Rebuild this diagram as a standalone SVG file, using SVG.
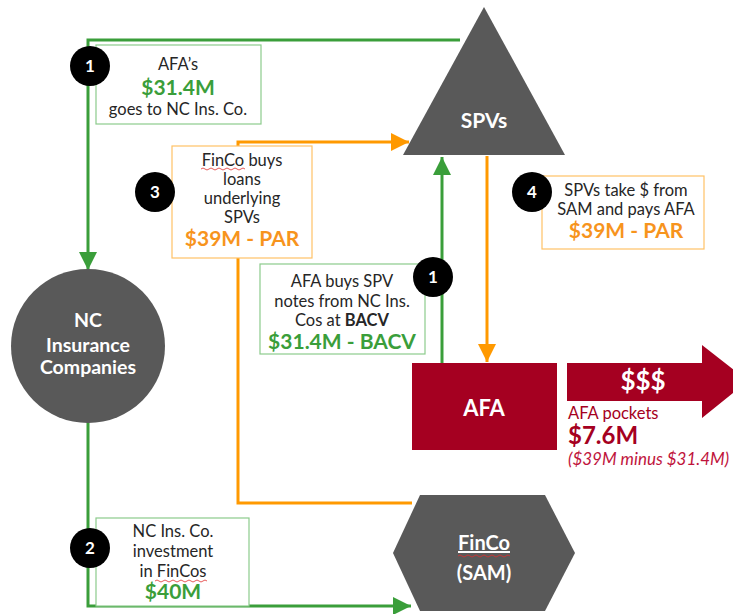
<svg xmlns="http://www.w3.org/2000/svg" width="733" height="614" viewBox="0 0 733 614">
<style>
text{font-family:Lato,"Liberation Sans",sans-serif;}
.t{font-size:16.5px;fill:#262626;text-anchor:middle;}
.g{font-size:21px;font-weight:bold;fill:#3A9E3A;text-anchor:middle;}
.o{font-size:21px;font-weight:bold;fill:#F7941D;text-anchor:middle;}
.w{font-weight:bold;fill:#fff;text-anchor:middle;}
.bn{font-size:17px;font-weight:bold;fill:#fff;text-anchor:middle;}
.gl{fill:none;stroke:#3A9E3A;stroke-width:3;}
.ol{fill:none;stroke:#FF9900;stroke-width:3;}
.gb{fill:#fff;stroke:#8CCB8C;stroke-width:1.2;}
.ob{fill:#fff;stroke:#FFC266;stroke-width:1.2;}
.sh{fill:#595959;}
.sq{fill:none;stroke:#E03030;stroke-width:0.8;}
</style>
<defs>
<marker id="ag" viewBox="0 0 10 10" refX="10" refY="5" markerWidth="6" markerHeight="6" orient="auto" markerUnits="strokeWidth"><path d="M0,0L10,5L0,10z" fill="#3A9E3A"/></marker>
<marker id="ao" viewBox="0 0 10 10" refX="10" refY="5" markerWidth="6" markerHeight="6" orient="auto" markerUnits="strokeWidth"><path d="M0,0L10,5L0,10z" fill="#FF9900"/></marker>
</defs>

<g id="connectors">
<path class="gl" d="M460,40H88V270" marker-end="url(#ag)"/>
<path class="gl" d="M88,422V606H411" marker-end="url(#ag)"/>
<path class="gl" d="M442,363V157" marker-end="url(#ag)"/>
<path class="ol" d="M412,503H238V142H409" marker-end="url(#ao)"/>
<path class="ol" d="M487,156V362" marker-end="url(#ao)"/>
</g>

<g id="spvs">
<polygon class="sh" points="484,7 565,155 403,155"/>
<text class="w" x="484" y="128" font-size="21">SPVs</text>
</g>

<g id="nc">
<circle class="sh" cx="88" cy="346" r="77"/>
<text class="w" x="88" y="327" font-size="19.5">NC</text>
<text class="w" x="88" y="352" font-size="19.5">Insurance</text>
<text class="w" x="88" y="374" font-size="19.5">Companies</text>
</g>

<g id="finco">
<polygon class="sh" points="393,553 420,495 545,495 575,553 545,611 420,611"/>
<text class="w" x="484" y="550" font-size="20" text-decoration="underline">FinCo</text>
<path class="sq" d="M458,556q2,-2 4,0t4,0t4,0t4,0t4,0t4,0t4,0t4,0t4,0t4,0t4,0t4,0t4,0"/>
<text class="w" x="484" y="580" font-size="20">(SAM)</text>
</g>

<g id="afa">
<rect x="412" y="363" width="145" height="87" fill="#A50021"/>
<text class="w" x="484" y="416" font-size="22">AFA</text>
</g>

<g id="pockets">
<polygon points="567,363 702,363 702,345 748,381 702,418 702,401 567,401" fill="#A50021"/>
<text class="w" x="643" y="390" font-size="26">$$$</text>
<text x="568" y="419" font-size="16.5" fill="#A50021">AFA pockets</text>
<text x="568" y="444" font-size="24" font-weight="bold" fill="#A50021">$7.6M</text>
<text x="568" y="465" font-size="17" font-style="italic" fill="#C0143C">($39M minus $31.4M)</text>
</g>

<g id="label1a">
<rect class="gb" x="96" y="45" width="165" height="79"/>
<text class="t" x="178" y="70">AFA’s</text>
<text class="g" x="178" y="95">$31.4M</text>
<text class="t" x="178" y="115">goes to NC Ins. Co.</text>
</g>

<g id="label3">
<rect class="ob" x="172" y="146" width="140" height="112"/>
<text class="t" x="242" y="166">FinCo buys</text>
<path class="sq" d="M201,169q2,-2 4,0t4,0t4,0t4,0t4,0t4,0t4,0t4,0t4,0t4,0t4,0"/>
<text class="t" x="242" y="185">loans</text>
<text class="t" x="242" y="204">underlying</text>
<text class="t" x="242" y="223">SPVs</text>
<text class="o" x="242" y="246">$39M - PAR</text>
</g>

<g id="label4">
<rect class="ob" x="542" y="176" width="162" height="73"/>
<text class="t" x="626" y="196">SPVs take $ from</text>
<text class="t" x="626" y="215">SAM and pays AFA</text>
<text class="o" x="626" y="238">$39M - PAR</text>
</g>

<g id="label1b">
<rect class="gb" x="260" y="264" width="165" height="90"/>
<text class="t" x="342" y="287">AFA buys SPV</text>
<text class="t" x="342" y="307">notes from NC Ins.</text>
<text class="t" x="342" y="326">Cos at <tspan font-weight="bold">BACV</tspan></text>
<text class="g" x="342" y="349">$31.4M - BACV</text>
</g>

<g id="label2">
<rect class="gb" x="96" y="518" width="153" height="88"/>
<text class="t" x="173" y="537">NC Ins. Co.</text>
<text class="t" x="173" y="557">investment</text>
<text class="t" x="173" y="577">in FinCos</text>
<path class="sq" d="M155,581q2,-2 4,0t4,0t4,0t4,0t4,0t4,0t4,0t4,0t4,0t4,0t4,0t4,0t4,0"/>
<text class="g" x="173" y="599">$40M</text>
</g>

<g id="badges">
<circle cx="90" cy="66" r="20" fill="#000"/><text class="bn" x="90" y="72">1</text>
<circle cx="155" cy="192" r="20" fill="#000"/><text class="bn" x="155" y="198">3</text>
<circle cx="532" cy="192" r="20" fill="#000"/><text class="bn" x="532" y="198">4</text>
<circle cx="433" cy="277" r="20" fill="#000"/><text class="bn" x="433" y="283">1</text>
<circle cx="90" cy="548" r="20" fill="#000"/><text class="bn" x="90" y="554">2</text>
</g>
</svg>
